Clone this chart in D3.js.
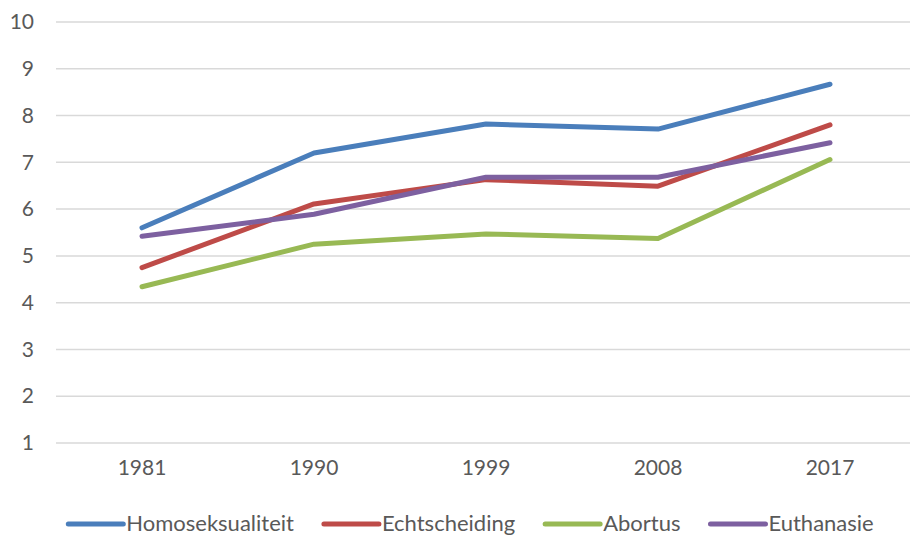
<html>
<head>
<title>Tolerantie</title>
<style>body{margin:0;background-color:#ffffff}</style>
<script src="https://d3js.org/d3.v7.min.js" charset="utf-8"></script>
</head>
<body>
<div id="chartDiv"></div>
<script type="text/javascript">

    // data
    var years = ["1981", "1990", "1999", "2008", "2017"];
    var seriesNames = ["Homoseksualiteit", "Echtscheiding", "Abortus", "Euthanasie"];
    var homoseksualiteit = [5.6, 7.2, 7.82, 7.71, 8.67];
    var echtscheiding = [4.75, 6.11, 6.63, 6.49, 7.8];
    var abortus = [4.34, 5.25, 5.47, 5.37, 7.06];
    var euthanasie = [5.42, 5.89, 6.68, 6.68, 7.42];
    var yTicks = [1, 2, 3, 4, 5, 6, 7, 8, 9, 10];

    var seriesValues = [homoseksualiteit, echtscheiding, abortus, euthanasie];
    var colors = ["#4a7ebb", "#be4b48", "#98b954", "#7d60a0"];

    var width = 910, height = 536;
    var margin = {top: 22, right: -6, bottom: 93, left: 56};
    var textColor = "#595959";
    var fontFamily = "Lato, 'Open Sans', sans-serif";

    var svg = d3.select("#chartDiv").append("svg")
        .attr("width", width)
        .attr("height", height);

    var x = d3.scaleBand().domain(years).range([margin.left, width - margin.right]).padding(0);
    var y = d3.scaleLinear().domain([1, 10]).range([height - margin.bottom, margin.top]);

    // horizontal gridlines
    svg.append("g")
        .selectAll("line")
        .data(yTicks)
        .enter()
        .append("line")
        .attr("x1", margin.left)
        .attr("x2", width - margin.right)
        .attr("y1", function(d) { return y(d); })
        .attr("y2", function(d) { return y(d); })
        .attr("stroke", "#d9d9d9")
        .attr("stroke-width", 1.5);

    // y axis labels
    var yAxis = svg.append("g")
        .attr("transform", "translate(" + (margin.left - 22) + ",0)")
        .call(d3.axisLeft(y).tickValues(yTicks).tickSize(0).tickPadding(0).tickFormat(d3.format("d")));
    yAxis.select(".domain").remove();
    yAxis.selectAll("text")
        .attr("fill", textColor)
        .attr("font-family", fontFamily)
        .attr("font-size", "21px");

    // x axis labels
    var xAxis = svg.append("g")
        .attr("transform", "translate(0," + y(1) + ")")
        .call(d3.axisBottom(x).tickSize(0).tickPadding(17));
    xAxis.select(".domain").remove();
    xAxis.selectAll("text")
        .attr("fill", textColor)
        .attr("font-family", fontFamily)
        .attr("font-size", "21px");

    var line = d3.line()
        .x(function(d, i) { return x(years[i]) + x.bandwidth() / 2; })
        .y(function(d) { return y(d); });

    // the four lines
    svg.append("g")
        .selectAll("path")
        .data(seriesValues)
        .enter()
        .append("path")
        .attr("d", function(d) { return line(d); })
        .attr("fill", "none")
        .attr("stroke", function(d, i) { return colors[i]; })
        .attr("stroke-width", 5)
        .attr("stroke-linecap", "round")
        .attr("stroke-linejoin", "round");

    // legend, items laid out by their text width and centred
    var legend = svg.append("g");
    var items = legend.selectAll("g")
        .data(seriesNames)
        .enter()
        .append("g");
    items.append("line")
        .attr("x1", 0).attr("x2", 55)
        .attr("y1", 0).attr("y2", 0)
        .attr("stroke", function(d, i) { return colors[i]; })
        .attr("stroke-width", 5)
        .attr("stroke-linecap", "round");
    items.append("text")
        .attr("x", 58)
        .attr("y", 7)
        .attr("fill", textColor)
        .attr("font-family", fontFamily)
        .attr("font-size", "22px")
        .text(function(d) { return d; });

    var pos = 0;
    items.each(function() {
        var w = 58 + d3.select(this).select("text").node().getComputedTextLength();
        d3.select(this).attr("transform", "translate(" + pos + ",0)");
        pos += w + 30;
    });
    var total = pos - 30;
    // a little higher than the reference so the descenders are not cut
    legend.attr("transform", "translate(" + (471 - total / 2) + ",524)");

</script>
</body>
</html>
